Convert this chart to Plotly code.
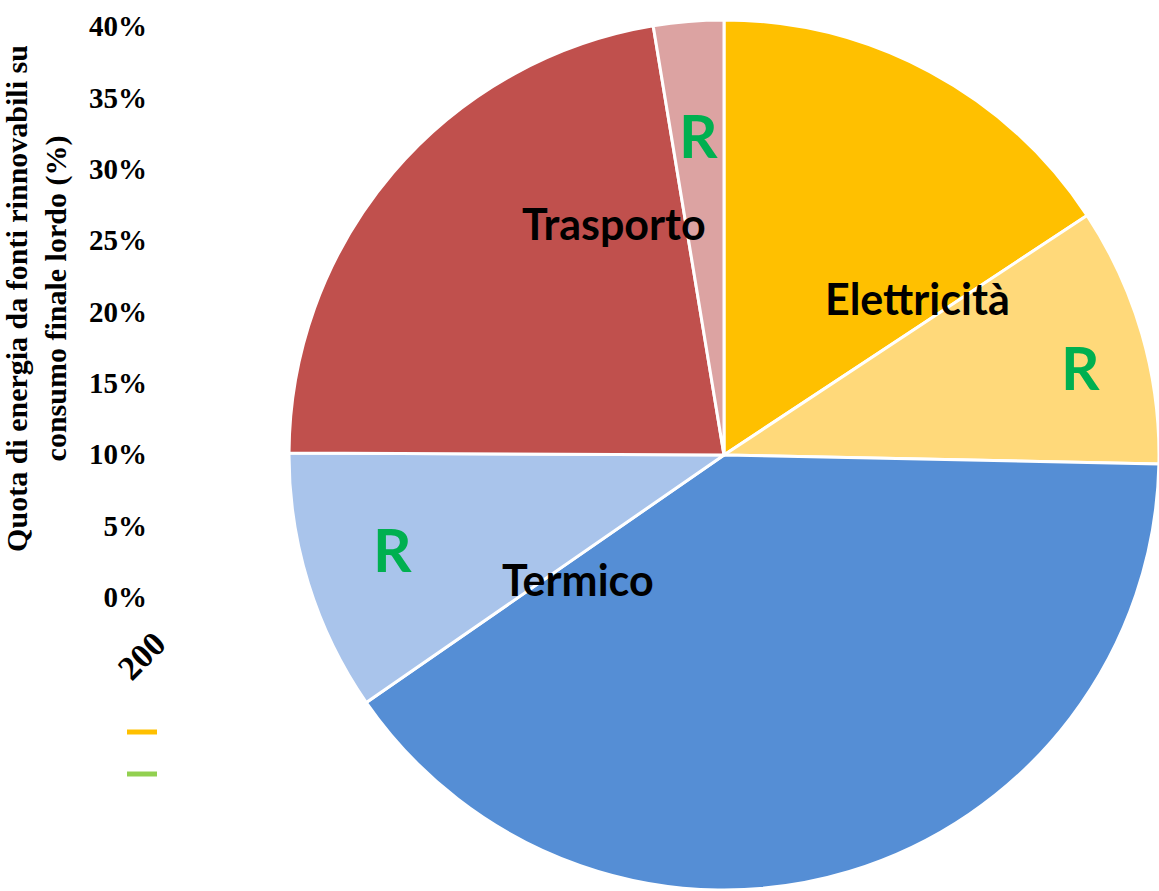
import plotly.graph_objects as go

W, H = 1159, 891

# torta: ripartizione del consumo finale lordo per settore (R = quota rinnovabile)
settori = ["Elettricità", "Elettricità R", "Termico", "Termico R", "Trasporto", "Trasporto R"]
quote = [15.7, 9.6, 40.0, 9.7, 22.3, 2.6]
colori = ["#FFC000", "#FFD97A", "#558ED5", "#A9C4EB", "#C0504D", "#DCA3A2"]

# etichette scritte sopra la torta
etichette = ["Elettricità", "R", "Termico", "R", "Trasporto", "R"]

# grafico a linee sottostante (coperto dall'immagine della torta)
anni = [2004, 2005, 2006, 2007, 2008, 2009, 2010, 2011, 2012, 2013, 2014]
serie_nomi = [" ", "  "]
serie_colori = ["#FFC000", "#92D050"]
tick_x = [2004]
tick_x_testo = ["200"]
tick_y = [0, 0.05, 0.10, 0.15, 0.20, 0.25, 0.30, 0.35, 0.40]

fig = go.Figure()

for nome, col in zip(serie_nomi, serie_colori):
    fig.add_trace(go.Scatter(
        x=anni, y=[None] * len(anni), name=nome, mode="lines",
        line=dict(color=col, width=5), showlegend=True
    ))

fig.add_trace(go.Pie(
    labels=settori, values=quote, sort=False, direction="clockwise",
    rotation=0, textinfo="none", hoverinfo="label+percent",
    marker=dict(colors=colori, line=dict(color="white", width=3)),
    domain=dict(x=[289 / W, 1], y=[0, 1 - 19 / H]),
    showlegend=False
))

# posizioni (pixel) delle etichette nella torta
pos = [(917, 298), (1080, 367), (578, 579), (392, 549), (614, 224), (698, 135)]
for testo, (px, py) in zip(etichette, pos):
    grande = testo == "R"
    fig.add_annotation(
        x=px / W, y=1 - py / H, xref="paper", yref="paper",
        xanchor="center", yanchor="middle",
        text=f"<b>{testo}</b>", showarrow=False,
        font=dict(family="Lato", size=60 if grande else 43,
                  color="#00B050" if grande else "black")
    )

serif = "Liberation Serif"
fig.update_layout(
    width=W, height=H,
    margin=dict(l=0, r=0, t=0, b=0, autoexpand=False),
    paper_bgcolor="white", plot_bgcolor="white",
    xaxis=dict(
        domain=[153 / W, 1], range=[2003.97, 2014.5], automargin=False,
        tickvals=tick_x, ticktext=tick_x_testo, tickangle=-45,
        showgrid=False, zeroline=False, showline=False, ticks="",
        ticklabelstandoff=19,
        tickfont=dict(family=serif, size=34, color="black", weight="bold")
    ),
    yaxis=dict(
        domain=[1 - 597 / H, 1], range=[0, 0.4 * 597 / (597 - 26)],
        automargin=False,
        tickvals=tick_y, tickformat=".0%", ticklabelstandoff=5,
        showgrid=False, zeroline=False, showline=False, ticks="",
        tickfont=dict(family=serif, size=29, color="black", weight="bold"),
        title=dict(
            text="Quota di energia da fonti rinnovabili su<br>consumo finale lordo (%)",
            font=dict(family=serif, size=30, color="black", weight="bold"),
            standoff=14
        )
    ),
    legend=dict(
        x=122 / W, y=1 - 706 / H, xanchor="left", yanchor="top",
        bgcolor="rgba(0,0,0,0)", font=dict(family=serif, size=30)
    )
)

# niente margine del body, così la figura parte dall'angolo in alto a sinistra
fig.write_html("out.html", config={"displayModeBar": False},
               post_script="document.body.style.margin = '0';")
